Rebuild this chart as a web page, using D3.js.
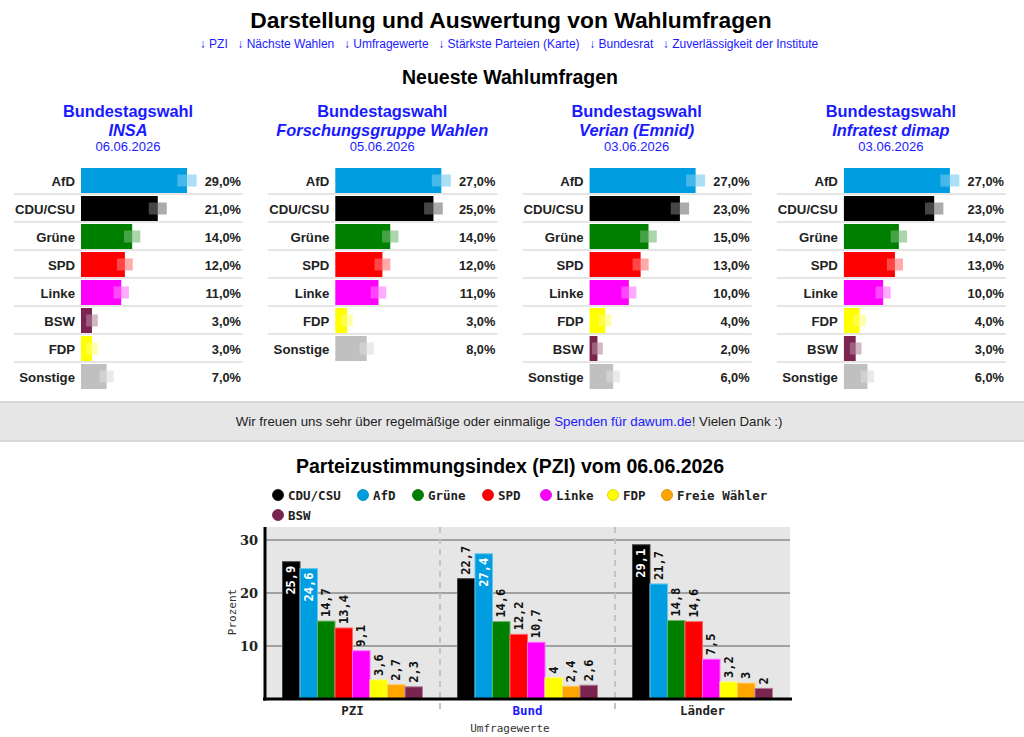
<!DOCTYPE html>
<html>
<head>
<meta charset="utf-8">
<script src="https://cdn.jsdelivr.net/npm/d3@7"></script>
<style>
  body { margin: 0; background: #fff; }
  svg { display: block; font-family: "Liberation Sans", Arial, sans-serif; }
</style>
</head>
<body>
<div id="chart"></div>
<script>
// Party colours
const partyColors = {
  "AfD": "#009ee0", "CDU/CSU": "#000000", "Grüne": "#008000", "SPD": "#ff0000",
  "Linke": "#ff00ff", "FDP": "#ffff00", "BSW": "#7b2450", "Sonstige": "#c0c0c0",
  "Freie Wähler": "#ffa500"
}

const navLinks = ["PZI", "Nächste Wahlen", "Umfragewerte", "Stärkste Parteien (Karte)", "Bundesrat", "Zuverlässigkeit der Institute"]

// Latest polls
const pollInstitutes = ["INSA", "Forschungsgruppe Wahlen", "Verian (Emnid)", "Infratest dimap"]
const pollDates = ["06.06.2026", "05.06.2026", "03.06.2026", "03.06.2026"]
const pollParties = [
  ["AfD", "CDU/CSU", "Grüne", "SPD", "Linke", "BSW", "FDP", "Sonstige"],
  ["AfD", "CDU/CSU", "Grüne", "SPD", "Linke", "FDP", "Sonstige"],
  ["AfD", "CDU/CSU", "Grüne", "SPD", "Linke", "FDP", "BSW", "Sonstige"],
  ["AfD", "CDU/CSU", "Grüne", "SPD", "Linke", "FDP", "BSW", "Sonstige"]
]
const pollValues = [
  [29, 21, 14, 12, 11, 3, 3, 7],
  [27, 25, 14, 12, 11, 3, 8],
  [27, 23, 15, 13, 10, 4, 2, 6],
  [27, 23, 14, 13, 10, 4, 3, 6]
]

// PZI chart
const pziGroups = ["PZI", "Bund", "Länder"]
const pziParties = ["CDU/CSU", "AfD", "Grüne", "SPD", "Linke", "FDP", "Freie Wähler", "BSW"]
const pziValues = [
  [25.9, 24.6, 14.7, 13.4, 9.1, 3.6, 2.7, 2.3],
  [22.7, 27.4, 14.6, 12.2, 10.7, 4, 2.4, 2.6],
  [29.1, 21.7, 14.8, 14.6, 7.5, 3.2, 3, 2]
]
const pziTicks = [10, 20, 30]

const W = 1024, H = 737
const blue = "#1a1aff"
const mono = "'DejaVu Sans Mono', monospace"

const svg = d3.select("#chart").append("svg")
  .attr("width", W).attr("height", H)

// Header
svg.append("text")
  .attr("x", W / 2 - 1).attr("y", 28)
  .attr("text-anchor", "middle")
  .attr("font-size", "22.8px").attr("font-weight", "bold")
  .text("Darstellung und Auswertung von Wahlumfragen")

const nav = svg.append("g")
const navItems = nav.selectAll("text")
  .data(navLinks)
  .join("text")
  .attr("y", 48)
  .attr("font-size", "12px")
  .attr("fill", blue)
  .text(d => "\u2193 " + d)
let xPos = 0
const gap = 9.6
navItems.each(function() {
  const len = this.getComputedTextLength()
  d3.select(this).attr("x", xPos)
  xPos += len + gap
})
nav.attr("transform", `translate(${509 - (xPos - gap) / 2},0)`)

svg.append("text")
  .attr("x", 510).attr("y", 84)
  .attr("text-anchor", "middle")
  .attr("font-size", "19.5px").attr("font-weight", "bold")
  .text("Neueste Wahlumfragen")

// Poll tables
const colWidth = 254.3
pollInstitutes.forEach((inst, i) => {
  const c = 128 + i * colWidth
  const g = svg.append("g")

  g.append("text").attr("x", c).attr("y", 117)
    .attr("text-anchor", "middle").attr("fill", blue)
    .attr("font-size", "16.4px").attr("font-weight", "bold")
    .text("Bundestagswahl")
  g.append("text").attr("x", c).attr("y", 136)
    .attr("text-anchor", "middle").attr("fill", blue)
    .attr("font-size", "16.4px").attr("font-weight", "bold").attr("font-style", "italic")
    .text(inst)
  g.append("text").attr("x", c).attr("y", 151)
    .attr("text-anchor", "middle").attr("fill", blue)
    .attr("font-size", "13px")
    .text(pollDates[i])

  const rows = pollParties[i].map((p, j) => ({ party: p, value: pollValues[i][j] }))
  const x = d3.scaleLinear()
    .domain([0, d3.max(rows, d => d.value)])
    .range([0, 106])
  const y = d3.scaleBand()
    .domain(rows.map(d => d.party))
    .range([167, 167 + rows.length * 28])

  const barX = c - 47

  // Separators
  g.selectAll("line.sep")
    .data(rows.slice(0, -1))
    .join("line")
    .attr("x1", c - 114).attr("x2", c + 115)
    .attr("y1", d => y(d.party) + 27).attr("y2", d => y(d.party) + 27)
    .attr("stroke", "#dcdcdc").attr("stroke-width", 1.5)

  g.selectAll("rect.bar")
    .data(rows)
    .join("rect")
    .attr("x", barX)
    .attr("y", d => y(d.party) + 1)
    .attr("width", d => x(d.value))
    .attr("height", 25)
    .attr("fill", d => partyColors[d.party])

  // Error-margin marker at the end of each bar
  const mw = v => 7 + 27 * Math.sqrt(v / 100 * (1 - v / 100))
  g.selectAll("rect.ghost")
    .data(rows)
    .join("rect")
    .attr("x", d => barX + x(d.value) - mw(d.value) / 2)
    .attr("width", d => mw(d.value))
    .attr("y", d => y(d.party) + 7.5)
    .attr("height", 12)
    .attr("fill", d => d3.interpolateRgb(partyColors[d.party], "#fff")(0.45))
    .attr("opacity", 0.6)

  g.selectAll("text.lbl")
    .data(rows)
    .join("text")
    .attr("x", c - 53)
    .attr("y", d => y(d.party) + 18.5)
    .attr("text-anchor", "end")
    .attr("font-size", "13.2px").attr("font-weight", "bold").attr("fill", "#222")
    .text(d => d.party)

  g.selectAll("text.val")
    .data(rows)
    .join("text")
    .attr("x", c + 113)
    .attr("y", d => y(d.party) + 18.5)
    .attr("text-anchor", "end")
    .attr("font-size", "12.8px").attr("font-weight", "bold").attr("fill", "#222")
    .text(d => d.value.toFixed(1).replace(".", ",") + "%")
})

// Donation band
svg.append("rect")
  .attr("x", -2).attr("y", 402).attr("width", W + 4).attr("height", 39)
  .attr("fill", "#e6e6e6").attr("stroke", "#cfcfcf").attr("stroke-width", 1.5)
const don = svg.append("text")
  .attr("x", 509).attr("y", 426)
  .attr("text-anchor", "middle")
  .attr("font-size", "13.3px").attr("fill", "#222")
don.append("tspan").text("Wir freuen uns sehr über regelmäßige oder einmalige ")
don.append("tspan").attr("fill", blue).text("Spenden für dawum.de")
don.append("tspan").text("! Vielen Dank :)")

// PZI chart
svg.append("text")
  .attr("x", 510).attr("y", 473)
  .attr("text-anchor", "middle")
  .attr("font-size", "19.5px").attr("font-weight", "bold")
  .text("Parteizustimmungsindex (PZI) vom 06.06.2026")

// Legend
const legendPos = [[278, 495], [363, 495], [418, 495], [488, 495], [546, 495], [613, 495], [667, 495], [278, 515]]
const legend = svg.append("g")
  .selectAll("g")
  .data(pziParties)
  .join("g")
  .attr("transform", (d, i) => `translate(${legendPos[i][0]},${legendPos[i][1]})`)
legend.append("circle")
  .attr("r", 5.5)
  .attr("fill", d => partyColors[d])
  .attr("stroke", d => d3.color(partyColors[d]).darker(0.6))
  .attr("stroke-width", 0.8)
legend.append("text")
  .attr("x", 10).attr("y", 4.5)
  .attr("font-family", mono).attr("font-size", "12.5px").attr("font-weight", "bold")
  .attr("fill", "#222")
  .text(d => d)

const plot = { left: 265, right: 790, top: 527, bottom: 699 }
const yS = d3.scaleLinear().domain([0, 32.45]).range([plot.bottom, plot.top])
const xG = d3.scaleBand().domain(pziGroups).range([plot.left, plot.right])
const xP = d3.scaleBand().domain(pziParties)
  .range([xG.bandwidth() * 0.1, xG.bandwidth() * 0.9])

svg.append("rect")
  .attr("x", plot.left).attr("y", plot.top)
  .attr("width", plot.right - plot.left).attr("height", plot.bottom - plot.top)
  .attr("fill", "#e6e6e6")

svg.append("g")
  .selectAll("line")
  .data(pziTicks)
  .join("line")
  .attr("x1", plot.left).attr("x2", plot.right)
  .attr("y1", d => yS(d)).attr("y2", d => yS(d))
  .attr("stroke", "#8a8a8a").attr("stroke-width", 1.5)

svg.append("g")
  .selectAll("text")
  .data(pziTicks)
  .join("text")
  .attr("x", 258).attr("y", d => yS(d) + 5)
  .attr("text-anchor", "end")
  .attr("font-family", "'DejaVu Serif', serif").attr("font-size", "13px").attr("font-weight", "bold")
  .attr("fill", "#222")
  .text(d => d)

// Group separators
svg.append("g")
  .selectAll("line")
  .data(pziGroups.slice(1))
  .join("line")
  .attr("x1", d => xG(d)).attr("x2", d => xG(d))
  .attr("y1", plot.top).attr("y2", 713)
  .attr("stroke", "#c4c4c4").attr("stroke-width", 2)
  .attr("stroke-dasharray", "6,5")

const fmt = v => String(v).replace(".", ",")
pziGroups.forEach((grp, gi) => {
  const data = pziParties.map((p, j) => ({ party: p, value: pziValues[gi][j] }))
  const g = svg.append("g").attr("transform", `translate(${xG(grp)},0)`)
  g.selectAll("rect")
    .data(data)
    .join("rect")
    .attr("x", d => xP(d.party))
    .attr("y", d => yS(d.value))
    .attr("width", xP.bandwidth())
    .attr("height", d => plot.bottom - yS(d.value))
    .attr("fill", d => partyColors[d.party])
    .attr("stroke", d => d.party === "CDU/CSU" ? "#444" : d3.interpolateRgb(partyColors[d.party], "#fff")(0.4))
    .attr("stroke-width", 1)

  g.selectAll("text")
    .data(data)
    .join("text")
    .attr("transform", d => {
      const inside = d.value > 24
      const yy = inside ? yS(d.value) + 4 : yS(d.value) - 4
      return `translate(${xP(d.party) + xP.bandwidth() / 2},${yy}) rotate(-90)`
    })
    .attr("dy", "0.35em")
    .attr("text-anchor", d => d.value > 24 ? "end" : "start")
    .attr("font-family", mono).attr("font-size", "12px").attr("font-weight", "bold")
    .attr("fill", d => d.value > 24 ? "#fff" : "#111")
    .text(d => fmt(d.value))
})

// Axis lines
svg.append("line")
  .attr("x1", plot.left).attr("x2", plot.left)
  .attr("y1", plot.top).attr("y2", plot.bottom + 1.5)
  .attr("stroke", "#000").attr("stroke-width", 3)
svg.append("line")
  .attr("x1", plot.left - 2).attr("x2", plot.right + 2)
  .attr("y1", plot.bottom).attr("y2", plot.bottom)
  .attr("stroke", "#000").attr("stroke-width", 3)

svg.append("g")
  .selectAll("text")
  .data(pziGroups)
  .join("text")
  .attr("x", d => xG(d) + xG.bandwidth() / 2)
  .attr("y", 715)
  .attr("text-anchor", "middle")
  .attr("font-family", mono).attr("font-size", "12.5px").attr("font-weight", "bold")
  .attr("fill", d => d === "Bund" ? blue : "#222")
  .text(d => d)

svg.append("text")
  .attr("x", 510).attr("y", 732)
  .attr("text-anchor", "middle")
  .attr("font-family", mono).attr("font-size", "11px").attr("fill", "#333")
  .text("Umfragewerte")

svg.append("text")
  .attr("transform", `translate(236,612) rotate(-90)`)
  .attr("text-anchor", "middle")
  .attr("font-family", mono).attr("font-size", "11px").attr("fill", "#333")
  .text("Prozent")
</script>
</body>
</html>
